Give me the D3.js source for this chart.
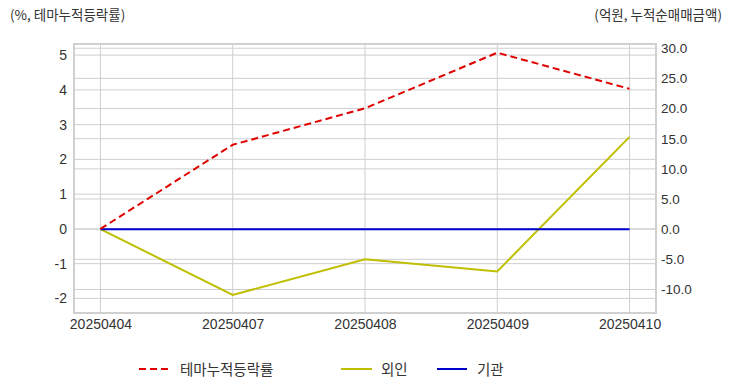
<!DOCTYPE html>
<html><head><meta charset="utf-8">
<script src="https://cdn.jsdelivr.net/npm/d3@7"></script>
<style>body{margin:0;background:#fff;} text{font-family:"Liberation Sans","Noto Sans CJK KR",sans-serif;}</style>
</head><body>
<svg id="c" width="732" height="392"></svg>
<script>
const dates = ["20250404","20250407","20250408","20250409","20250410"];
const themeRate = [0, 2.42, 3.47, 5.07, 4.03];
const foreign = [0, -10.9, -5.0, -7.0, 15.3];
const inst = [0, 0, 0, 0, 0];
const leftTicks = [-2,-1,0,1,2,3,4,5];
const rightTicks = [-10,-5,0,5,10,15,20,25,30];
const seriesNames = ["테마누적등락률","외인","기관"];

const svg = d3.select("#c");
const L=74, R=656, T=44, B=313;
const x = d3.scalePoint().domain(dates).range([L,R]).padding(0.2);
const yL = d3.scaleLinear().domain([-2.42,5.32]).range([B,T]);
const yR = d3.scaleLinear().domain([-13.9,30.7]).range([B,T]);
const grid = "#cfcfcf";
const kfont = "'Noto Sans CJK KR','Noto Sans',sans-serif";

const g = svg.append("g");
g.selectAll(".gl").data(leftTicks).join("line").attr("x1",L).attr("x2",R)
 .attr("y1",d=>yL(d)).attr("y2",d=>yL(d)).attr("stroke",grid).attr("stroke-width",1);
g.selectAll(".gr").data(rightTicks).join("line").attr("x1",L).attr("x2",R)
 .attr("y1",d=>yR(d)).attr("y2",d=>yR(d)).attr("stroke",grid).attr("stroke-width",1);
g.selectAll(".gx").data(dates).join("line").attr("y1",T).attr("y2",B)
 .attr("x1",d=>x(d)).attr("x2",d=>x(d)).attr("stroke",grid).attr("stroke-width",1);
g.append("rect").attr("x",L).attr("y",T).attr("width",R-L).attr("height",B-T)
 .attr("fill","none").attr("stroke","#d0d0d0").attr("stroke-width",2);

const axL = svg.append("g").attr("transform",`translate(${L},0)`)
 .call(d3.axisLeft(yL).tickValues(leftTicks).tickSize(0).tickPadding(7));
const axR = svg.append("g").attr("transform",`translate(${R},0)`)
 .call(d3.axisRight(yR).tickValues(rightTicks).tickSize(0).tickPadding(5));
const axX = svg.append("g").attr("transform",`translate(0,${B})`)
 .call(d3.axisBottom(x).tickSize(0).tickPadding(6));
[axL,axR,axX].forEach(a=>{a.select(".domain").remove();
 a.selectAll("text").attr("font-size",14).attr("fill","#333").style("font-family","'Liberation Sans',Arial,sans-serif");});
axR.selectAll("text").attr("font-size",13.5);
axL.selectAll("text").text(d=>d<0?"-"+Math.abs(d):d);
axR.selectAll("text").text(d=>d<0?"-"+Math.abs(d).toFixed(1):d.toFixed(1));

const lineL = d3.line().x((d,i)=>x(dates[i])).y(d=>yL(d));
const lineR = d3.line().x((d,i)=>x(dates[i])).y(d=>yR(d));
svg.append("path").attr("d",lineR(foreign)).attr("fill","none").attr("stroke","#bfbf00").attr("stroke-width",2);
svg.append("path").attr("d",lineR(inst)).attr("fill","none").attr("stroke","#0000cc").attr("stroke-width",2);
svg.append("path").attr("d",lineL(themeRate)).attr("fill","none").attr("stroke","#e00000").attr("stroke-width",2).attr("stroke-dasharray","7,4");

svg.append("text").attr("x",10).attr("y",20).attr("font-size",13.5).attr("fill","#333").style("font-family",kfont).text("(%, 테마누적등락률)");
svg.append("text").attr("x",722).attr("y",20).attr("text-anchor","end").attr("font-size",13.5).attr("fill","#333").style("font-family",kfont).text("(억원, 누적순매매금액)");

const leg = [
 {name:seriesNames[0], color:"#e00000", dash:"7,4", x1:139, x2:168, tx:180},
 {name:seriesNames[1], color:"#bfbf00", dash:null, x1:341, x2:372, tx:381},
 {name:seriesNames[2], color:"#0000cc", dash:null, x1:437, x2:467, tx:477}
];
const lg = svg.append("g");
leg.forEach(l=>{
 lg.append("line").attr("x1",l.x1).attr("x2",l.x2).attr("y1",369).attr("y2",369)
  .attr("stroke",l.color).attr("stroke-width",2).attr("stroke-dasharray",l.dash);
 lg.append("text").attr("x",l.tx).attr("y",374.5).attr("font-size",14.5).attr("fill","#333").style("font-family",kfont).text(l.name);
});
</script>
</body></html>
